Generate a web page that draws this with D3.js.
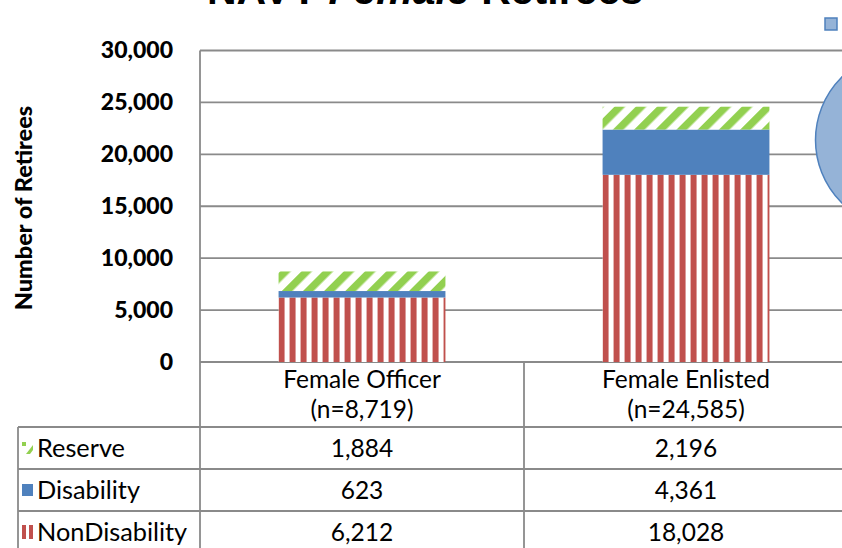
<!DOCTYPE html>
<html>
<head>
<meta charset="utf-8">
<script src="https://cdn.jsdelivr.net/npm/d3@7"></script>
<style>
  body { margin: 0; background: #fff; }
  svg { display: block; }
  text { font-family: Lato, "Open Sans", sans-serif; fill: #000; }
</style>
</head>
<body>
<svg id="chart" width="842" height="548"></svg>
<script>
// data
var categories = ["Female Officer", "Female Enlisted"];
var catCounts = ["(n=8,719)", "(n=24,585)"];
var seriesNames = ["Reserve", "Disability", "NonDisability"];
var nonDisability = [6212, 18028];
var disability = [623, 4361];
var reserve = [1884, 2196];
var yTicks = [0, 5000, 10000, 15000, 20000, 25000, 30000];

var W = 842, H = 548;
var margin = {top: 50.5, left: 200, bottom: 362};
var plotRight = 848;   // plot runs off the right edge

var svg = d3.select("#chart");
var gridColor = "#8a8a8a";

// scales
var x = d3.scaleBand()
  .domain(categories)
  .range([margin.left, plotRight])
  .padding(0);
var barW = x.bandwidth() * 0.515;

var y = d3.scaleLinear()
  .domain([0, 30000])
  .range([margin.bottom, margin.top]);

// patterns
var defs = svg.append("defs");
categories.forEach(function(c, i) {
  var p = defs.append("pattern")
    .attr("id", "stripeRed" + i)
    .attr("patternUnits", "userSpaceOnUse")
    .attr("x", x(c) + (x.bandwidth() - barW) / 2)
    .attr("width", 11).attr("height", 10);
  p.append("rect").attr("width", 11).attr("height", 10).attr("fill", "#fff");
  p.append("rect").attr("width", 6).attr("height", 10).attr("fill", "#C0504D");
});
var g = defs.append("pattern")
  .attr("id", "diagGreen")
  .attr("patternUnits", "userSpaceOnUse")
  .attr("width", 15).attr("height", 15)
  .attr("patternTransform", "rotate(45)");
g.append("rect").attr("width", 15).attr("height", 15).attr("fill", "#fff");
g.append("rect").attr("width", 7.5).attr("height", 15).attr("fill", "#92D050");

// title (cut off at the top, as in the source)
var title = svg.append("text")
  .attr("x", 425).attr("y", 4)
  .attr("text-anchor", "middle")
  .style("font-family", "'Liberation Sans', Arial, sans-serif")
  .style("font-weight", "bold")
  .style("font-size", "41px");
title.append("tspan").text("NAVY ");
title.append("tspan").style("font-style", "italic").text("Female");
title.append("tspan").text(" Retirees");

// gridlines
svg.append("g").selectAll("line")
  .data(yTicks)
  .enter().append("line")
    .attr("x1", margin.left).attr("x2", W)
    .attr("y1", function(d) { return y(d); })
    .attr("y2", function(d) { return y(d); })
    .attr("stroke", gridColor).attr("stroke-width", 1.8);

// y axis labels
var yAxis = svg.append("g")
  .attr("transform", "translate(" + margin.left + ",0)")
  .call(d3.axisLeft(y).tickValues(yTicks).tickFormat(d3.format(",")).tickSize(0).tickPadding(27));
yAxis.select(".domain").remove();
yAxis.selectAll("text")
  .style("font-family", "Lato, sans-serif")
  .style("font-weight", "900")
  .style("font-size", "23px")
  .attr("fill", "#000");

svg.append("text")
  .attr("transform", "translate(32,208) rotate(-90)")
  .attr("text-anchor", "middle")
  .style("font-weight", "900")
  .style("font-size", "23.5px")
  .text("Number of Retirees");

// stacked bars
var stackData = categories.map(function(c, i) {
  return {cat: c, NonDisability: nonDisability[i], Disability: disability[i], Reserve: reserve[i]};
});
var stack = d3.stack().keys(["NonDisability", "Disability", "Reserve"]);
var layers = stack(stackData);
var fills = {
  NonDisability: function(d, i) { return "url(#stripeRed" + i + ")"; },
  Disability: function() { return "#4F81BD"; },
  Reserve: function() { return "url(#diagGreen)"; }
};
layers.forEach(function(layer) {
  svg.append("g").selectAll("rect")
    .data(layer)
    .enter().append("rect")
      .attr("x", function(d) { return x(d.data.cat) + (x.bandwidth() - barW) / 2; })
      .attr("y", function(d) { return y(d[1]); })
      .attr("width", barW)
      .attr("height", function(d) { return y(d[0]) - y(d[1]); })
      .attr("fill", fills[layer.key]);
});

// data table
var tableLeft = 18;
var headerBottom = 427, rowH = 42;
var tbl = svg.append("g");
// vertical lines
tbl.append("line").attr("x1", margin.left).attr("x2", margin.left)
  .attr("y1", margin.top).attr("y2", H)
  .attr("stroke", gridColor).attr("stroke-width", 1.8);
categories.forEach(function(c) {
  var xr = x(c) + x.bandwidth();
  tbl.append("line").attr("x1", xr).attr("x2", xr)
    .attr("y1", margin.bottom).attr("y2", H)
    .attr("stroke", gridColor).attr("stroke-width", 1.8);
});
tbl.append("line").attr("x1", tableLeft).attr("x2", tableLeft)
  .attr("y1", headerBottom).attr("y2", H)
  .attr("stroke", gridColor).attr("stroke-width", 1.8);
// horizontal lines
[0, 1, 2, 3].forEach(function(r) {
  tbl.append("line").attr("x1", tableLeft).attr("x2", W)
    .attr("y1", headerBottom + r * rowH).attr("y2", headerBottom + r * rowH)
    .attr("stroke", gridColor).attr("stroke-width", 1.8);
});

// category headers
categories.forEach(function(c, i) {
  var cx = x(c) + x.bandwidth() / 2;
  tbl.append("text").attr("x", cx).attr("y", 388)
    .attr("text-anchor", "middle").style("font-size", "24.5px").text(c);
  tbl.append("text").attr("x", cx).attr("y", 418)
    .attr("text-anchor", "middle").style("font-size", "24.5px").text(catCounts[i]);
});

// rows
var rowValues = [reserve, disability, nonDisability];
var fmt = d3.format(",");
seriesNames.forEach(function(s, r) {
  var yc = headerBottom + r * rowH + rowH / 2;
  tbl.append("text").attr("x", 37).attr("y", yc + 9)
    .style("font-size", "25.3px").text(s);
  categories.forEach(function(c, i) {
    tbl.append("text").attr("x", x(c) + x.bandwidth() / 2).attr("y", yc + 9)
      .attr("text-anchor", "middle").style("font-size", "24.5px").text(fmt(rowValues[r][i]));
  });
});

// legend keys in the table
var k0 = headerBottom + rowH / 2;
var kg = tbl.append("g").attr("transform", "translate(22," + (k0 - 6) + ")");
kg.append("polygon").attr("points", "0,0 4,0 4,4 0,4").attr("fill", "#92D050");
kg.append("polygon").attr("points", "4,12 11,3 11,8 8,12").attr("fill", "#92D050");
tbl.append("rect").attr("x", 22).attr("y", k0 + rowH - 6).attr("width", 11).attr("height", 12)
  .attr("fill", "#4F81BD");
tbl.append("rect").attr("x", 22).attr("y", k0 + 2 * rowH - 7).attr("width", 4).attr("height", 14)
  .attr("fill", "#C0504D");
tbl.append("rect").attr("x", 29).attr("y", k0 + 2 * rowH - 7).attr("width", 4).attr("height", 14)
  .attr("fill", "#C0504D");

// neighbouring chart pieces at the right edge
svg.append("rect").attr("x", 825).attr("y", 18).attr("width", 12).attr("height", 12)
  .attr("fill", "#95B3D7").attr("stroke", "#4F81BD").attr("stroke-width", 1.5);
svg.append("circle").attr("cx", 904).attr("cy", 140).attr("r", 88.5)
  .attr("fill", "#95B3D7").attr("stroke", "#4F81BD").attr("stroke-width", 1.5);
</script>
</body>
</html>
